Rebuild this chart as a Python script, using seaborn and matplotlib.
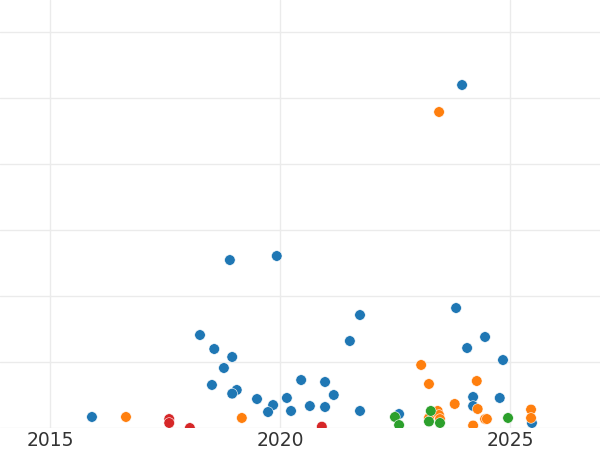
import numpy as np
import pandas as pd
import matplotlib
matplotlib.use("Agg")
import matplotlib.pyplot as plt
import seaborn as sns

# Valores (año, valor) por grupo
blue_x = [2015.91, 2018.91, 2019.93, 2018.26, 2018.57, 2018.96, 2018.78, 2018.52,
          2019.06, 2018.96, 2019.50, 2019.85, 2019.74, 2020.15, 2020.24, 2020.46,
          2020.65, 2020.98, 2020.98, 2021.17, 2021.52, 2021.74, 2021.74, 2022.59,
          2023.83, 2024.07, 2023.96, 2024.46, 2024.20, 2024.20, 2024.78, 2024.85,
          2025.48]
blue_y = [1.67, 25.45, 26.06, 14.09, 11.97, 10.76, 9.09, 6.52,
          5.76, 5.20, 4.39, 3.48, 2.42, 4.55, 2.58, 7.27,
          3.33, 6.97, 3.18, 5.00, 13.18, 17.12, 2.58, 2.12,
          18.18, 12.12, 51.97, 13.79, 4.70, 3.33, 4.55, 10.30,
          0.76]

orange_x = [2016.65, 2019.17, 2023.46, 2023.07, 2023.24, 2024.28, 2023.80, 2024.30,
            2024.46, 2024.50, 2024.20, 2023.24, 2023.43, 2023.46, 2023.48, 2025.46,
            2025.46]
orange_y = [1.67, 1.52, 47.88, 9.55, 6.67, 7.12, 3.64, 2.88,
            1.36, 1.36, 0.38, 1.52, 2.58, 1.97, 1.36, 2.80,
            1.52]

green_x = [2022.50, 2022.59, 2023.28, 2023.24, 2023.48, 2024.96]
green_y = [1.67, 0.45, 2.58, 0.98, 0.76, 1.52]

red_x = [2017.59, 2017.59, 2018.04, 2020.91]
red_y = [1.36, 0.76, 0.0, 0.2]

groups = ["A", "B", "C", "D"]
colors = ["#1f77b4", "#ff7f0e", "#2ca02c", "#d62728"]
x_ticks = [2015, 2020, 2025]

df = pd.concat([
    pd.DataFrame({"year": blue_x, "value": blue_y, "group": "A"}),
    pd.DataFrame({"year": orange_x, "value": orange_y, "group": "B"}),
    pd.DataFrame({"year": green_x, "value": green_y, "group": "C"}),
    pd.DataFrame({"year": red_x, "value": red_y, "group": "D"}),
], ignore_index=True)

sns.set_style("white")

fig = plt.figure(figsize=(6, 4.5), dpi=100)
ax = fig.add_axes([0, 22 / 450, 1, 428 / 450])

sns.scatterplot(data=df, x="year", y="value", hue="group", hue_order=groups,
                palette=colors, s=58, edgecolor="white", linewidth=0.4,
                legend=False, ax=ax, zorder=3)

ax.set_xlim(2013.91, 2026.96)
ax.set_ylim(0, 64.85)
ax.set_xticks(x_ticks)
ax.set_yticks(np.arange(0, 61, 10))
ax.set_yticklabels([])
ax.grid(True, color="#ebebeb", linewidth=1)
ax.set_axisbelow(True)
ax.tick_params(axis="both", length=0)
ax.tick_params(axis="x", labelsize=13.5, labelcolor="#333333", pad=2)
ax.set_xlabel("")
ax.set_ylabel("")
for s in ax.spines.values():
    s.set_visible(False)

fig.savefig("out.png", dpi=100)
